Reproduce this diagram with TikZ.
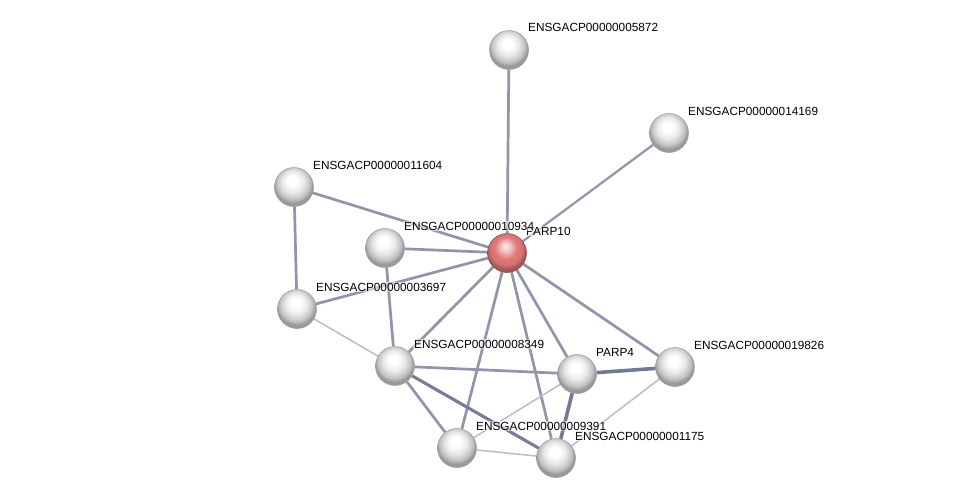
\documentclass[tikz,border=0pt]{standalone}
\usepackage{fontspec}
\setmainfont{Liberation Sans}
\pgfdeclarelayer{back}
\pgfdeclarelayer{bg}
\pgfsetlayers{back,bg,main}
\pgfdeclareradialshading{sphere}{\pgfpoint{-2bp}{9bp}}{color(0bp)=(white); color(6bp)=(white); color(14bp)=(black!9); color(21bp)=(black!24); color(25bp)=(black!40); color(50bp)=(black!40)}
\definecolor{redc}{HTML}{E27A7A}
\pgfdeclareradialshading{redsphere}{\pgfpoint{-2bp}{9bp}}{color(0bp)=(white!85!redc); color(6bp)=(white!55!redc); color(14bp)=(redc); color(21bp)=(redc!92!black); color(25bp)=(redc!72!black); color(50bp)=(redc!72!black)}
\definecolor{edgem}{HTML}{9095AC}
\definecolor{edgel}{HTML}{B9BCCA}
\definecolor{edged}{HTML}{737893}
\tikzset{
  prot/.style={circle, minimum size=39pt, inner sep=0pt, draw=black!40, line width=0.5pt, shading=sphere},
  hub/.style={prot, shading=redsphere, draw=redc!60!black},
  lab/.style={anchor=base west, inner sep=0.8pt, font=\fontsize{11.8}{13}\selectfont, fill=white, fill opacity=0.55, text opacity=1},
  em/.style={draw=edgem, line width=2.7pt},
  el/.style={draw=edgel, line width=1.5pt},
  ed/.style={draw=edged, line width=3.6pt},
  ed2/.style={draw=edged!85!edgem, line width=3.1pt}
}
\begin{document}
\begin{tikzpicture}[x=1pt,y=-1pt]
\begin{pgfonlayer}{back}
\fill[white] (0,0) rectangle (976,503);
\end{pgfonlayer}
\useasboundingbox (0,0) rectangle (976,503);
\node[prot] (n5872) at (509,50) {};
\node[prot] (n14169) at (669,133) {};
\node[prot] (n11604) at (294,187) {};
\node[prot] (n10934) at (385,248) {};
\node[hub] (parp10) at (507,253) {};
\node[prot] (n3697) at (297,309) {};
\node[prot] (n8349) at (395,366) {};
\node[prot] (parp4) at (577,374) {};
\node[prot] (n19826) at (675,367) {};
\node[prot] (n9391) at (457,448) {};
\node[prot] (n1175) at (556,458) {};
\begin{pgfonlayer}{bg}
\draw[em] (parp10) -- (n5872);
\draw[em, line width=2.2pt] (parp10) -- (n14169);
\draw[em] (parp10) -- (n11604);
\draw[em] (parp10) -- (n10934);
\draw[em] (parp10) -- (n3697);
\draw[em] (parp10) -- (n8349);
\draw[em] (parp10) -- (n9391);
\draw[em] (parp10) -- (n1175);
\draw[em] (parp10) -- (parp4);
\draw[em] (parp10) -- (n19826);
\draw[em] (n11604) -- (n3697);
\draw[em] (n10934) -- (n8349);
\draw[el] (n3697) -- (n8349);
\draw[em] (n8349) -- (parp4);
\draw[em] (n8349) -- (n9391);
\draw[ed2] (n8349) -- (n1175);
\draw[ed] (parp4) -- (n19826);
\draw[ed] (parp4) -- (n1175);
\draw[el] (parp4) -- (n9391);
\draw[el] (n19826) -- (n1175);
\draw[el] (n9391) -- (n1175);
\end{pgfonlayer}
\node[lab] (t5872) at ([shift={(18.2,-18)}]n5872) {ENSGACP00000005872};
\node[lab] (t14169) at ([shift={(18.2,-18)}]n14169) {ENSGACP00000014169};
\node[lab] (t11604) at ([shift={(18.2,-18)}]n11604) {ENSGACP00000011604};
\node[lab] (tparp10) at ([shift={(18.2,-18)}]parp10) {PARP10};
\node[lab] (t10934) at ([shift={(18.2,-18)}]n10934) {ENSGACP00000010934};
\node[lab] (t3697) at ([shift={(18.2,-18)}]n3697) {ENSGACP00000003697};
\node[lab] (t8349) at ([shift={(18.2,-18)}]n8349) {ENSGACP00000008349};
\node[lab] (tparp4) at ([shift={(18.2,-18)}]parp4) {PARP4};
\node[lab] (t19826) at ([shift={(18.2,-18)}]n19826) {ENSGACP00000019826};
\node[lab] (t9391) at ([shift={(18.2,-18)}]n9391) {ENSGACP00000009391};
\node[lab] (t1175) at ([shift={(18.2,-18)}]n1175) {ENSGACP00000001175};
\end{tikzpicture}
\end{document}
